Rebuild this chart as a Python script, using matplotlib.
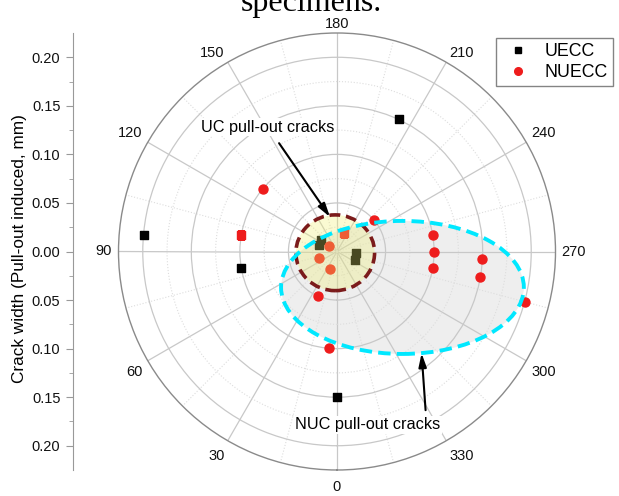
import numpy as np
import matplotlib
matplotlib.use("Agg")
import matplotlib.pyplot as plt
import matplotlib.transforms as mtransforms
from matplotlib.patches import Ellipse
from matplotlib.lines import Line2D

plt.rcParams["font.family"] = ["Liberation Sans", "DejaVu Sans"]

# Crack orientation (degrees) and pull-out induced crack width (mm)
uecc_angle = [95, 80, 205, 0, 110, 125, 275, 295]
uecc_width = [0.20, 0.10, 0.15, 0.15, 0.02, 0.02, 0.02, 0.02]

nuecc_angle = [130, 230, 125, 70, 22.5, 22.5, 5, 260, 270, 280, 273, 280, 285]
nuecc_width = [0.10, 0.05, 0.01, 0.02, 0.02, 0.05, 0.10, 0.10, 0.10, 0.10, 0.15, 0.15, 0.20]

# points shared by both series (drawn as red squares)
shared_angle = [100, 200]
shared_width = [0.10, 0.02]

theta_ticks = list(range(0, 360, 30))
width_ticks = [-0.20, -0.15, -0.10, -0.05, 0.00, 0.05, 0.10, 0.15, 0.20]

RMAX = 0.225

W, H = 619, 496
fig = plt.figure(figsize=(W / 100, H / 100), dpi=100)

cx, cy, R = 337, 251.5, 218.5
box = [(cx - R) / W, (H - cy - R) / H, 2 * R / W, 2 * R / H]

ax = fig.add_axes(box, projection="polar")
ax.set_theta_zero_location("S")
ax.set_theta_direction(-1)
ax.set_rlim(0, RMAX)

ax.set_xticks(np.deg2rad(theta_ticks))
ax.set_xticklabels([])
ax.set_xticks(np.deg2rad(np.arange(15, 360, 30)), minor=True)
ax.set_yticks([0.05, 0.10, 0.15, 0.20])
ax.set_yticks([0.025, 0.075, 0.125, 0.175], minor=True)
ax.set_yticklabels([])
ax.tick_params(axis="x", which="both", pad=1, length=3, direction="in", color="#909090")
ax.grid(which="major", color="#c8c8c8", lw=0.9, ls="-")
ax.xaxis.grid(which="minor", color="#dddddd", lw=0.8, ls=":")
ax.yaxis.grid(which="minor", color="#dddddd", lw=0.8, ls=":")
ax.spines["polar"].set_color("#8a8a8a")
ax.spines["polar"].set_linewidth(1.0)

# angle labels just outside the rim, aligned away from the centre
LABEL_PAD = 4.5
for t in theta_ticks:
    a = np.deg2rad(t)
    dx, dy = -np.sin(a), -np.cos(a)
    ha = "left" if dx > 0.3 else ("right" if dx < -0.3 else "center")
    va = "bottom" if dy > 0.3 else ("top" if dy < -0.3 else "center")
    ax.annotate(str(t), xy=(a, RMAX),
                xytext=(dx * LABEL_PAD, dy * LABEL_PAD - 3.0 * dy ** 2),
                textcoords="offset points", ha=ha, va=va,
                fontsize=10.5, color="#111111", annotation_clip=False)

# maps crack-width units (centred at the pole) onto the polar axes box
to_axes = mtransforms.Affine2D().scale(1 / (2 * RMAX)).translate(0.5, 0.5) + ax.transAxes

# NUC region shading (under markers)
ax.add_patch(Ellipse((0.0674, -0.037), 0.25, 0.137, transform=to_axes,
                     facecolor="#eeeeee", edgecolor="none", zorder=1))

ax.scatter(np.deg2rad(uecc_angle), uecc_width, marker="s", s=28,
           color="black", zorder=3, clip_on=False)
ax.scatter(np.deg2rad(nuecc_angle), nuecc_width, marker="o", s=42,
           color="#ee1c1c", zorder=3, clip_on=False)
ax.scatter(np.deg2rad(shared_angle), shared_width, marker="s", s=32,
           color="#ee1c1c", zorder=3)

# UC region
ax.add_patch(Ellipse((-0.0018, -0.0013), 0.081, 0.078, transform=to_axes,
                     facecolor="#efef6f", alpha=0.31, edgecolor="none", zorder=4))
ax.add_patch(Ellipse((-0.0018, -0.0013), 0.081, 0.078, transform=to_axes,
                     facecolor="none", edgecolor="#7b1b1b", lw=2.6,
                     ls=(0, (3.0, 1.6)), zorder=5))
ax.add_patch(Ellipse((0.0674, -0.037), 0.25, 0.137, transform=to_axes,
                     facecolor="none", edgecolor="#00e8ff", lw=2.8,
                     ls=(0, (3.2, 1.6)), zorder=6))

ax.annotate("UC pull-out cracks", xy=(-0.0072, 0.0355), xycoords=to_axes,
            xytext=(-0.071, 0.128), textcoords=to_axes, ha="center", va="center",
            fontsize=11.7, zorder=8,
            bbox=dict(boxstyle="square,pad=0.1", fc="white", ec="none"),
            arrowprops=dict(arrowstyle="-|>,head_length=0.7,head_width=0.2",
                            color="black", lw=1.5, shrinkA=6, shrinkB=0))
ax.annotate("NUC pull-out cracks", xy=(0.0871, -0.1047), xycoords=to_axes,
            xytext=(0.0319, -0.1785), textcoords=to_axes, ha="center", va="center",
            fontsize=11.7, zorder=8,
            bbox=dict(boxstyle="square,pad=0.1", fc="white", ec="none"),
            arrowprops=dict(arrowstyle="-|>,head_length=0.7,head_width=0.2",
                            color="black", lw=1.5, shrinkA=4, shrinkB=0,
                            relpos=(0.9, 1.0)))

# linear crack width scale on the left
axl = fig.add_axes([73 / W, box[1], 0.0001, box[3]])
axl.set_ylim(-RMAX, RMAX)
axl.set_yticks(width_ticks)
axl.set_yticklabels([f"{abs(t):.2f}" for t in width_ticks], fontsize=10.5, color="#111111")
axl.set_yticks([-0.175, -0.125, -0.075, -0.025, 0.025, 0.075, 0.125, 0.175], minor=True)
axl.tick_params(axis="y", which="major", length=5, color="#999999", pad=4)
axl.tick_params(axis="y", which="minor", length=3, color="#999999")
axl.set_xticks([])
for side in ("top", "right", "bottom"):
    axl.spines[side].set_visible(False)
axl.spines["left"].set_color("#999999")
axl.patch.set_visible(False)
fig.text(20 / W, (H - 248.5) / H, "Crack width (Pull-out induced, mm)",
         rotation=90, ha="center", va="center", fontsize=12.4)

handles = [Line2D([], [], ls="none", marker="s", ms=4.5, color="black"),
           Line2D([], [], ls="none", marker="o", ms=5.5, color="#ee1c1c")]
fig.legend(handles, ["UECC", "NUECC"], loc="upper right",
           bbox_to_anchor=(613 / W, (H - 38) / H), borderaxespad=0, fontsize=12.8,
           frameon=True, fancybox=False, edgecolor="#666666",
           handlelength=1.9, handletextpad=0.55, borderpad=0.3, labelspacing=0.2)

fig.text(311 / W, (H - 11) / H, "specimens.", family=["Liberation Serif", "DejaVu Serif"],
         fontsize=23, ha="center", va="baseline")

fig.savefig("out.png", dpi=100)
